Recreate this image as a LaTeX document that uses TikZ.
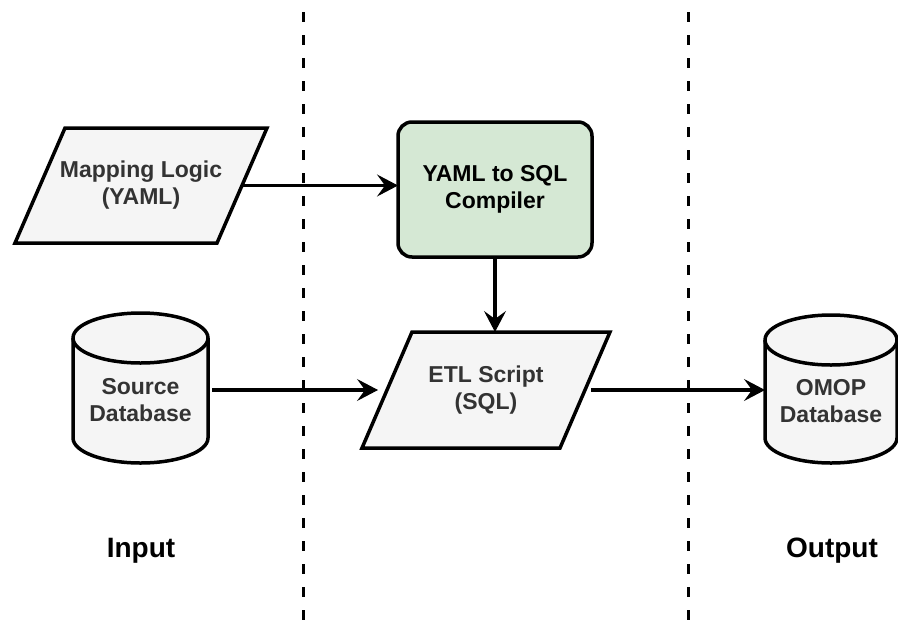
\documentclass[tikz,border=0pt]{standalone}
\usepackage{fontspec}
\setmainfont{Liberation Sans}
\usetikzlibrary{arrows.meta,calc,backgrounds}
\definecolor{shapegray}{HTML}{F5F5F5}
\definecolor{textgray}{HTML}{333333}
\definecolor{compgreen}{HTML}{D5E8D4}
\begin{document}
\begin{tikzpicture}[x=1pt,y=1pt,
  lbl/.style={font=\fontsize{23}{27}\selectfont\bfseries, align=center, text=textgray, outer sep=0pt, inner sep=0pt},
  parabox/.style={draw=black, line width=3.5pt, fill=shapegray, line join=miter},
  cylbox/.style={draw=black, line width=3.5pt, fill=shapegray},
  cylline/.style={draw=black, line width=3.5pt},
  compbox/.style={draw=black, line width=3.5pt, fill=compgreen, rounded corners=14pt,
    minimum width=194pt, minimum height=135pt, text=black},
  flow/.style={line width=3.5pt, -{Stealth[length=21pt,width=22pt,inset=8pt,line width=1pt]}},
  sepline/.style={line width=3pt, dash pattern=on 10pt off 13pt, dash phase=11pt},
  phaselbl/.style={font=\fontsize{28}{32}\selectfont\bfseries, text=black, anchor=base}
]
\useasboundingbox (0,0) rectangle (898,-622);

% separators
\coordinate (s1t) at (303,0);
\coordinate (s1b) at (303,-622);
\coordinate (s2t) at (688,0);
\coordinate (s2b) at (688,-622);
\draw[sepline] (s1t) -- (s1b);
\draw[sepline] (s2t) -- (s2b);

% nodes
\node[lbl, minimum width=202pt, minimum height=115pt] (map) at (141,-185.5) {Mapping Logic\\(YAML)};
\node[lbl, compbox] (comp) at (495,-189.5) {YAML to SQL\\Compiler};
\node[lbl, minimum width=198pt, minimum height=116pt] (etl) at (486,-390) {ETL Script\\(SQL)};
\node[lbl, minimum width=135pt, minimum height=125pt] (src) at (140.5,-400.5) {Source\\Database};
\node[lbl, minimum width=132pt, minimum height=123pt] (omop) at (831,-401.5) {OMOP\\Database};

\node[phaselbl] (inp) at (141,-557) {Input};
\node[phaselbl] (outp) at (832,-557) {Output};

\begin{scope}[on background layer]
  \draw[parabox] ($(map.south west)+(-25,0)$) -- ($(map.south east)+(-25,0)$)
     -- ($(map.north east)+(25,0)$) -- ($(map.north west)+(25,0)$) -- cycle;
  \draw[parabox] ($(etl.south west)+(-25,0)$) -- ($(etl.south east)+(-25,0)$)
     -- ($(etl.north east)+(25,0)$) -- ($(etl.north west)+(25,0)$) -- cycle;
  % source cylinder
  \draw[cylbox] (src.north west) -- ($(src.south west)+(0,25)$)
     arc[start angle=180,end angle=360,x radius=67.5pt,y radius=25pt]
     -- (src.north east)
     arc[start angle=0,end angle=180,x radius=67.5pt,y radius=25pt] -- cycle;
  \draw[cylline] (src.north west) arc[start angle=180,end angle=360,x radius=67.5pt,y radius=25pt];
  % omop cylinder
  \draw[cylbox] (omop.north west) -- ($(omop.south west)+(0,25)$)
     arc[start angle=180,end angle=360,x radius=66pt,y radius=25pt]
     -- (omop.north east)
     arc[start angle=0,end angle=180,x radius=66pt,y radius=25pt] -- cycle;
  \draw[cylline] (omop.north west) arc[start angle=180,end angle=360,x radius=66pt,y radius=25pt];
\end{scope}

% connectors
\draw[flow] (map.east) -- (map.east -| comp.west);
\draw[flow] (comp.south) -- (comp.south |- etl.north);
\draw[flow, shorten <=4pt, shorten >=9pt] (src.east |- etl.west) -- (etl.west);
\draw[flow, shorten <=6pt] (etl.east) -- (etl.east -| omop.west);
\end{tikzpicture}
\end{document}
